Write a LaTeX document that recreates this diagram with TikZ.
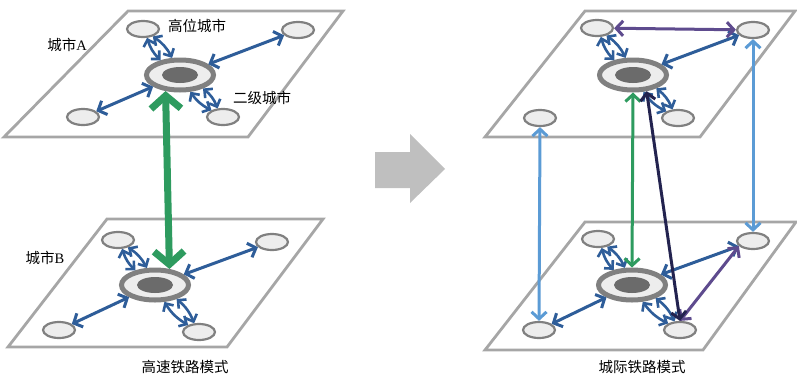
\documentclass[tikz,border=0pt]{standalone}
\usepackage{fontspec}
\setmainfont{Liberation Serif}
\newfontfamily\cjk{Noto Sans CJK SC}
\usetikzlibrary{arrows.meta,shapes.geometric}
\definecolor{plane}{HTML}{A6A6A6}
\definecolor{satfill}{HTML}{EDEDED}
\definecolor{ring}{HTML}{808080}
\definecolor{core}{HTML}{6B6B6B}
\definecolor{cblue}{HTML}{2E5D99}
\definecolor{lblue}{HTML}{5B9BD5}
\definecolor{cgreen}{HTML}{2E9B5F}
\definecolor{cpurple}{HTML}{5E4B8E}
\definecolor{cnavy}{HTML}{23234F}
\definecolor{bigarrow}{HTML}{BFBFBF}
\tikzset{
  planebox/.style={draw=plane, line width=2.8pt, fill=white, line join=miter},
  sat/.style={ellipse, draw=ring, fill=satfill, line width=2.2pt, minimum width=32pt, minimum height=16pt, inner sep=0pt},
  hub/.style={ellipse, draw=ring, fill=satfill, line width=5pt, minimum width=67pt, minimum height=30pt, inner sep=0pt},
  hubcore/.style={ellipse, fill=core, minimum width=36pt, minimum height=16pt, inner sep=0pt},
  conn/.style={line width=3pt, draw=cblue, {Straight Barb[length=7pt,width=15pt]}-{Straight Barb[length=7pt,width=15pt]}},
  thin/.style={line width=3pt, {Straight Barb[length=7pt,width=15pt]}-{Straight Barb[length=7pt,width=15pt]}},
  dconn/.style={line width=2.6pt, draw=cblue, {Straight Barb[length=6pt,width=12pt]}-{Straight Barb[length=6pt,width=12pt]}},
  gthick/.style={line width=7pt, draw=cgreen, {Straight Barb[length=13pt,width=30pt]}-{Straight Barb[length=13pt,width=30pt]}},
  lbl/.style={font=\fontsize{14.5}{17}\selectfont, inner sep=0pt}
}
\begin{document}
\begin{tikzpicture}[x=1pt,y=-1pt]
\useasboundingbox (0,0) rectangle (797,375);
% ---------- left panel ----------
\draw[planebox] (128,11) -- (343,11) -- (248,137) -- (4,137) -- cycle;
\draw[planebox] (107,219) -- (323,219) -- (227,347) -- (8,347) -- cycle;
% top plane A
\node[hub] (hA) at (180,75) {};
\node[hubcore] (hAc) at (180,75) {};
\node[sat] (sA1) at (143,29) {};
\node[sat] (sA2) at (298,30) {};
\node[sat] (sA3) at (83,117) {};
\node[sat] (sA4) at (223,117) {};
\draw[conn] (hA) -- (sA2);
\draw[conn] (hA) -- (sA3);
\draw[dconn] (hA) to[bend left=14] (sA1);
\draw[dconn] (hA) to[bend right=14] (sA1);
\draw[dconn] (hA) to[bend left=14] (sA4);
\draw[dconn] (hA) to[bend right=14] (sA4);
% bottom plane B
\node[hub] (hB) at (155,285) {};
\node[hubcore] (hBc) at (155,285) {};
\node[sat] (sB1) at (118,240) {};
\node[sat] (sB2) at (272,242) {};
\node[sat] (sB3) at (59,330) {};
\node[sat] (sB4) at (199,332) {};
\draw[conn] (hB) -- (sB2);
\draw[conn] (hB) -- (sB3);
\draw[dconn] (hB) to[bend left=14] (sB1);
\draw[dconn] (hB) to[bend right=14] (sB1);
\draw[dconn] (hB) to[bend left=14] (sB4);
\draw[dconn] (hB) to[bend right=14] (sB4);
\draw[gthick] (hA.228) -- (hB.48);
% labels
\node[lbl] (tA1) at (197,26) {\cjk 高位城市};
\node[lbl] (tA2) at (67,45) {{\cjk 城市}A};
\node[lbl] (tA3) at (262,98) {\cjk 二级城市};
\node[lbl] (tB1) at (45,258) {{\cjk 城市}B};
\node[lbl] (tcap1) at (185,367) {\cjk 高速铁路模式};
% ---------- big grey arrow ----------
\fill[bigarrow] (375,152) -- (410,152) -- (410,134) -- (445,169) -- (410,203) -- (410,188) -- (375,188) -- cycle;
% ---------- right panel ----------
\draw[planebox] (585,11) -- (795,11) -- (700,137) -- (485,137) -- cycle;
\draw[planebox] (585,222) -- (796,222) -- (703,350) -- (485,350) -- cycle;
% top plane
\node[hub] (hC) at (633,75) {};
\node[hubcore] (hCc) at (633,75) {};
\node[sat] (sC1) at (597,28) {};
\node[sat] (sC2) at (753,30) {};
\node[sat] (sC3) at (540,118) {};
\node[sat] (sC4) at (678,118) {};
\draw[conn] (hC) -- (sC2);
\draw[dconn] (hC) to[bend left=14] (sC1);
\draw[dconn] (hC) to[bend right=14] (sC1);
\draw[dconn] (hC) to[bend left=14] (sC4);
\draw[dconn] (hC) to[bend right=14] (sC4);
\draw[thin, draw=cpurple] (sC1) -- (sC2);
% bottom plane
\node[hub] (hD) at (632,285) {};
\node[hubcore] (hDc) at (632,285) {};
\node[sat] (sD1) at (598,239) {};
\node[sat] (sD2) at (753,241) {};
\node[sat] (sD3) at (539,330) {};
\node[sat] (sD4) at (680,330) {};
\draw[conn] (hD) -- (sD2);
\draw[conn] (hD) -- (sD3);
\draw[dconn] (hD) to[bend left=14] (sD1);
\draw[dconn] (hD) to[bend right=14] (sD1);
\draw[dconn] (hD) to[bend left=14] (sD4);
\draw[dconn] (hD) to[bend right=14] (sD4);
% inter-city links
\draw[thin, draw=lblue] (sC3.south) -- (sD3.north);
\draw[thin, draw=lblue] (sC2.south) -- (sD2.north);
\draw[thin, draw=cgreen] (hC.south) -- (hD.north);
\draw[thin, draw=cpurple] (sD4.north) -- (sD2.200);
\draw[thin, draw=cnavy] (hC.-50) -- (sD4.north);
\node[lbl] (tcap2) at (642,367) {\cjk 城际铁路模式};
\end{tikzpicture}
\end{document}
